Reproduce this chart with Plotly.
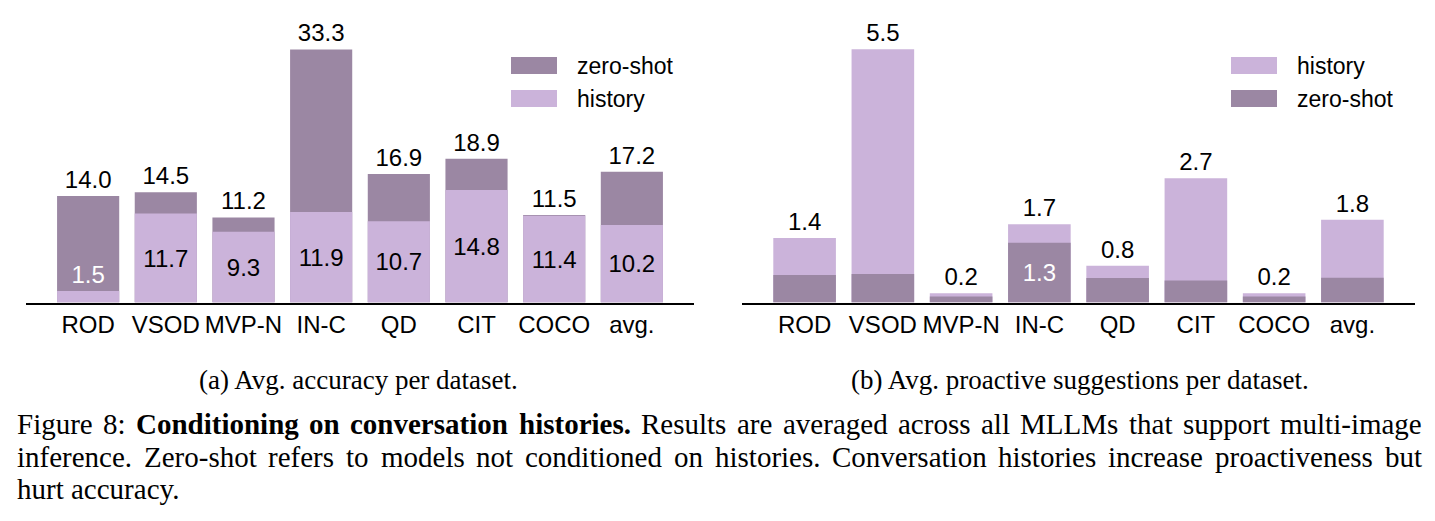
import plotly.graph_objects as go

categories = ["ROD", "VSOD", "MVP-N", "IN-C", "QD", "CIT", "COCO", "avg."]
acc_zero_shot = [14.0, 14.5, 11.2, 33.3, 16.9, 18.9, 11.5, 17.2]
acc_history = [1.5, 11.7, 9.3, 11.9, 10.7, 14.8, 11.4, 10.2]
pro_history = [1.4, 5.5, 0.2, 1.7, 0.8, 2.7, 0.2, 1.8]
pro_zero_shot = [0.60, 0.62, 0.13, 1.3, 0.53, 0.48, 0.13, 0.54]

DARK = "#9b87a3"
LIGHT = "#cbb3da"
W, H = 1435, 521
FONT = "Liberation Sans, Arial, sans-serif"
SERIF = "Liberation Serif, Times New Roman, serif"
FS = 24

x_idx = list(range(len(categories)))

fig = go.Figure()

# Left panel: zero-shot behind, history in front
fig.add_trace(go.Bar(
    x=x_idx, y=acc_zero_shot, marker=dict(color=DARK, line=dict(width=0)), width=0.8,
    text=[f"{v:.1f}" for v in acc_zero_shot], textposition="outside",
    textfont=dict(family=FONT, size=FS, color="black"), cliponaxis=False,
    xaxis="x", yaxis="y", showlegend=False, name="zero-shot"))
small = [v < 3 for v in acc_history]
fig.add_trace(go.Bar(
    x=x_idx, y=acc_history, marker=dict(color=LIGHT, line=dict(width=0)), width=0.8,
    text=[f"{v:.1f}" for v in acc_history],
    textposition=["outside" if s else "inside" for s in small],
    insidetextanchor="middle",
    textfont=dict(family=FONT, size=FS, color=["white" if s else "black" for s in small]),
    cliponaxis=False, textangle=0,
    xaxis="x", yaxis="y", showlegend=False, name="history"))

# Right panel: history behind, zero-shot in front
fig.add_trace(go.Bar(
    x=x_idx, y=pro_history, marker=dict(color=LIGHT, line=dict(width=0)), width=0.8,
    text=[f"{v:.1f}" for v in pro_history], textposition="outside",
    textfont=dict(family=FONT, size=FS, color="black"), cliponaxis=False,
    xaxis="x2", yaxis="y2", showlegend=False, name="history"))
fig.add_trace(go.Bar(
    x=x_idx, y=pro_zero_shot, marker=dict(color=DARK, line=dict(width=0)), width=0.8,
    text=[f"{v:.1f}" if v >= 1 else "" for v in pro_zero_shot], textposition="inside",
    insidetextanchor="middle", textangle=0,
    textfont=dict(family=FONT, size=FS, color="white"), cliponaxis=False,
    xaxis="x2", yaxis="y2", showlegend=False, name="zero-shot"))

ydom = [(H - 302.5) / H, (H - 20) / H]
xaxis_common = dict(
    tickmode="array", tickvals=x_idx, ticktext=categories, range=[-0.8, 7.8],
    showline=True, linecolor="black", linewidth=1.5, ticks="", showgrid=False,
    zeroline=False, tickfont=dict(family=FONT, size=FS, color="black"))
yaxis_common = dict(showline=False, showgrid=False, zeroline=False, showticklabels=False, ticks="")

fig.update_layout(
    width=W, height=H, margin=dict(l=0, r=0, t=0, b=0),
    paper_bgcolor="white", plot_bgcolor="white", barmode="overlay",
    xaxis=dict(domain=[26 / W, 694 / W], anchor="y", **xaxis_common),
    yaxis=dict(domain=ydom, range=[0, 282.5 / 7.6], anchor="x", **yaxis_common),
    xaxis2=dict(domain=[742 / W, 1415 / W], anchor="y2", **xaxis_common),
    yaxis2=dict(domain=ydom, range=[0, 282.5 / 46.04], anchor="x2", **yaxis_common),
)

# Legends drawn manually
def legend(x0, entries):
    for i, (label, color) in enumerate(entries):
        y0 = 57 + 33 * i
        fig.add_shape(type="rect", xref="paper", yref="paper",
                      x0=x0 / W, x1=(x0 + 46) / W, y0=1 - (y0 + 17) / H, y1=1 - y0 / H,
                      fillcolor=color, line=dict(width=0))
        fig.add_annotation(x=(x0 + 64) / W, y=1 - (y0 + 8.5) / H, xref="paper", yref="paper",
                           text=label, showarrow=False, xanchor="left", yanchor="middle",
                           font=dict(family=FONT, size=23, color="black"))

legend(511, [("zero-shot", DARK), ("history", LIGHT)])
legend(1231, [("history", LIGHT), ("zero-shot", DARK)])

# Sub-captions
fig.add_annotation(x=358 / W, y=1 - 380 / H, xref="paper", yref="paper", showarrow=False,
                   text="(a) Avg. accuracy per dataset.", xanchor="center", yanchor="middle",
                   font=dict(family=SERIF, size=27, color="black"))
fig.add_annotation(x=1080 / W, y=1 - 380 / H, xref="paper", yref="paper", showarrow=False,
                   text="(b) Avg. proactive suggestions per dataset.", xanchor="center", yanchor="middle",
                   font=dict(family=SERIF, size=27, color="black"))

# Main caption, justified word by word (Times metrics, per 1000 em)
REG = dict(a=444, b=500, c=444, d=500, e=444, f=333, g=500, h=500, i=278, j=278, k=500, l=278,
           m=778, n=500, o=500, p=500, q=500, r=333, s=389, t=278, u=500, v=500, w=722, x=500,
           y=500, z=444, A=722, B=667, C=667, D=722, E=611, F=556, G=722, H=722, I=333, J=389,
           K=722, L=611, M=889, N=722, O=722, P=556, Q=722, R=667, S=556, T=611, U=722, V=722,
           W=944, X=722, Y=722, Z=611)
REG.update({".": 250, ",": 250, ":": 278, "-": 333, "8": 500, "(": 333, ")": 333})
BOLD = dict(a=500, b=556, c=444, d=556, e=444, f=333, g=500, h=556, i=278, l=278, m=833,
            n=556, o=500, r=444, s=389, t=333, u=556, v=500, y=500, C=722)
BOLD.update({".": 250})

CAP_FS = 29
LEFT, RIGHT = 15, 1420

def word_width(word, bold):
    table = BOLD if bold else REG
    return sum(table.get(ch, 500) for ch in word) * CAP_FS / 1000

caption_lines = [
    [("Figure", False), ("8:", False), ("Conditioning", True), ("on", True), ("conversation", True),
     ("histories.", True), ("Results", False), ("are", False), ("averaged", False), ("across", False),
     ("all", False), ("MLLMs", False), ("that", False), ("support", False), ("multi-image", False)],
    [(w, False) for w in "inference. Zero-shot refers to models not conditioned on histories. Conversation histories increase proactiveness but".split()],
    [(w, False) for w in "hurt accuracy.".split()],
]
for i, words in enumerate(caption_lines):
    y = 1 - (424 + 32.5 * i) / H
    widths = [word_width(w, b) for w, b in words]
    justify = i < len(caption_lines) - 1
    if justify:
        gap = (RIGHT - LEFT - sum(widths)) / (len(words) - 1)
    else:
        gap = 250 * CAP_FS / 1000
    x = LEFT
    for (w, b), ww in zip(words, widths):
        txt = f"<b>{w}</b>" if b else w
        fig.add_annotation(x=x / W, y=y, xref="paper", yref="paper", showarrow=False,
                           text=txt, xanchor="left", yanchor="middle",
                           font=dict(family=SERIF, size=CAP_FS, color="black"))
        x += ww + gap

fig.write_html("out.html")
